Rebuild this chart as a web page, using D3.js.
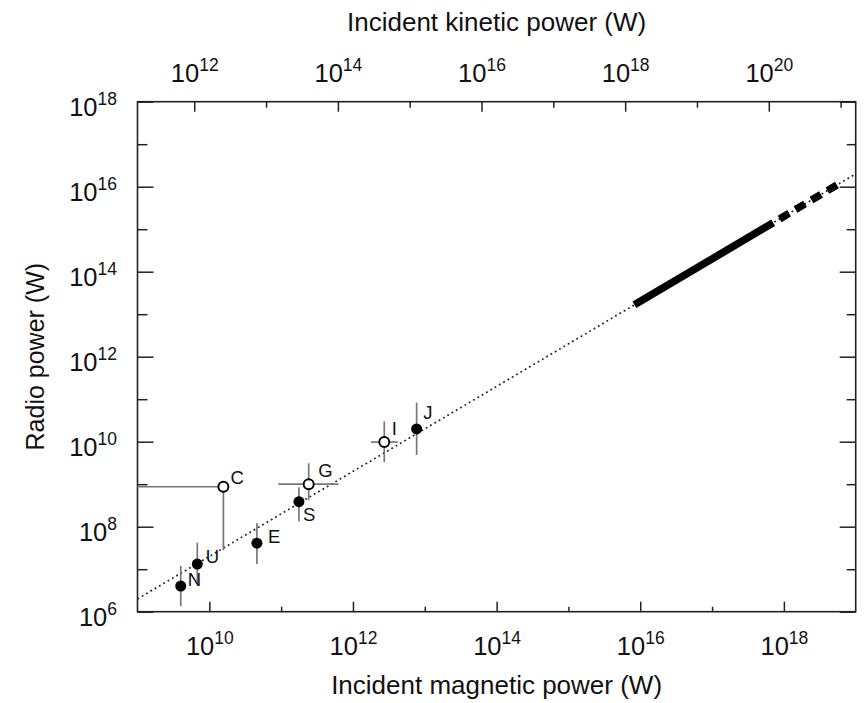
<!DOCTYPE html>
<html>
<head>
<meta charset="utf-8">
<script src="https://cdn.jsdelivr.net/npm/d3@7"></script>
<style>
  body { margin: 0; background: #fff; }
  svg { font-family: "Liberation Sans", Arial, Helvetica, sans-serif; }
</style>
</head>
<body>
<svg id="chart" width="864" height="703"></svg>
<script>
// Bodies: incident magnetic power vs radio power
const bodies     = ["N", "U", "E", "S", "G", "C", "I", "J"];
const magPower   = [4.0e9, 6.8e9, 4.6e10, 1.77e11, 2.42e11, 1.57e10, 2.73e12, 7.7e12];
const radioPower = [4.0e6, 1.32e7, 4.1e7, 3.87e8, 1.0e9, 8.7e8, 9.8e9, 2.0e10];
const radioLow   = [1.35e6, 4.5e6, 1.32e7, 1.32e8, 4.2e8, 2.8e7, 3.3e9, 4.9e9];
const radioHigh  = [1.2e7, 4.2e7, 1.2e8, 8.5e8, 3.1e9, 8.7e8, 3.0e10, 8.3e10];
const magLow     = [null, null, null, null, 9.1e10, 1e9, 1.78e12, null];
const magHigh    = [null, null, null, null, 6.3e11, 1.57e10, 4.2e12, null];
const hollow     = [false, false, false, false, true, true, true, false];

// Radio-magnetic Bode's law, P_radio = 2e-3 * P_mag
const lawCoef = 2.0e-3;
const lawRange = [1e9, 1e19];
const lawSolid = [8.3e15, 7.1e17];
const lawDashed = [7.1e17, 5.8e18];

// ticks
const magTicks = [1e10, 1e12, 1e14, 1e16, 1e18];
const magMinor = [1e11, 1e13, 1e15, 1e17];
const kinTicks = [1e12, 1e14, 1e16, 1e18, 1e20];
const kinMinor = [1e13, 1e15, 1e17, 1e19, 1e21];
const radioTicks = [1e6, 1e8, 1e10, 1e12, 1e14, 1e16, 1e18];
const radioMinor = [1e7, 1e9, 1e11, 1e13, 1e15, 1e17];

const plotLeft = 137.5, plotRight = 855.7, plotTop = 101.7, plotBottom = 611.7;

const x = d3.scaleLog().domain([1e9, 1e19]).range([plotLeft, plotRight]);
const xTop = d3.scaleLog().domain([Math.pow(10, 11.21), Math.pow(10, 21.21)]).range([plotLeft, plotRight]);
const y = d3.scaleLog().domain([1e6, 1e18]).range([plotBottom, plotTop]);

const svg = d3.select("#chart");
const ink = "#222";

function powLabel(sel) {
    sel.each(function(d) {
        const t = d3.select(this).text("");
        t.append("tspan").text("10");
        t.append("tspan")
            .attr("font-size", 17.5)
            .attr("dy", "-0.62em")
            .text(Math.round(Math.log10(d)));
    });
}

function styleAxis(g) {
    g.select(".domain").remove();
    g.selectAll(".tick line").attr("stroke", ink).attr("stroke-width", 1.5);
    g.selectAll(".tick text").attr("fill", "#111").attr("font-size", 25.5);
}

// bottom axis
svg.append("g").attr("transform", `translate(0,${plotBottom})`)
    .call(d3.axisBottom(x).tickValues(magTicks).tickSizeInner(-10).tickSizeOuter(0).tickPadding(25.5))
    .call(styleAxis)
    .selectAll(".tick text").call(powLabel);
svg.append("g").attr("transform", `translate(0,${plotBottom})`)
    .call(d3.axisBottom(x).tickValues(magMinor).tickSizeInner(-5).tickSizeOuter(0).tickFormat(""))
    .call(styleAxis);

// top axis
svg.append("g").attr("transform", `translate(0,${plotTop})`)
    .call(d3.axisTop(xTop).tickValues(kinTicks).tickSizeInner(-10).tickSizeOuter(0).tickPadding(20))
    .call(styleAxis)
    .selectAll(".tick text").call(powLabel);
svg.append("g").attr("transform", `translate(0,${plotTop})`)
    .call(d3.axisTop(xTop).tickValues(kinMinor).tickSizeInner(-6).tickSizeOuter(0).tickFormat(""))
    .call(styleAxis);

// left axis
svg.append("g").attr("transform", `translate(${plotLeft},0)`)
    .call(d3.axisLeft(y).tickValues(radioTicks).tickSizeInner(-16).tickSizeOuter(0).tickPadding(20.5))
    .call(styleAxis)
    .selectAll(".tick text").attr("dy", "0.53em").call(powLabel);
svg.append("g").attr("transform", `translate(${plotLeft},0)`)
    .call(d3.axisLeft(y).tickValues(radioMinor).tickSizeInner(-10).tickSizeOuter(0).tickFormat(""))
    .call(styleAxis);

// right axis (ticks only)
svg.append("g").attr("transform", `translate(${plotRight},0)`)
    .call(d3.axisRight(y).tickValues(radioTicks).tickSizeInner(-16).tickSizeOuter(0).tickFormat(""))
    .call(styleAxis);
svg.append("g").attr("transform", `translate(${plotRight},0)`)
    .call(d3.axisRight(y).tickValues(radioMinor).tickSizeInner(-9).tickSizeOuter(0).tickFormat(""))
    .call(styleAxis);

// frame
svg.append("rect")
    .attr("x", plotLeft).attr("y", plotTop)
    .attr("width", plotRight - plotLeft).attr("height", plotBottom - plotTop)
    .attr("fill", "none").attr("stroke", ink).attr("stroke-width", 1.6);

// titles
svg.append("text")
    .attr("x", (plotLeft + plotRight) / 2).attr("y", 30.7)
    .attr("text-anchor", "middle").attr("font-size", 26).attr("fill", "#111")
    .text("Incident kinetic power (W)");
svg.append("text")
    .attr("x", (plotLeft + plotRight) / 2).attr("y", 694)
    .attr("text-anchor", "middle").attr("font-size", 26).attr("fill", "#111")
    .text("Incident magnetic power (W)");
svg.append("text")
    .attr("transform", `translate(44,${(plotTop + plotBottom) / 2}) rotate(-90)`)
    .attr("text-anchor", "middle").attr("font-size", 25).attr("fill", "#111")
    .text("Radio power (W)");

// scaling law
const lawLine = d3.line().x(d => x(d)).y(d => y(lawCoef * d));
svg.append("path")
    .attr("d", lawLine(lawRange))
    .attr("fill", "none").attr("stroke", ink)
    .attr("stroke-width", 1.7).attr("stroke-dasharray", "1.8,3.2");
svg.append("path")
    .attr("d", lawLine(lawSolid))
    .attr("fill", "none").attr("stroke", "#000").attr("stroke-width", 7.5);
svg.append("path")
    .attr("d", lawLine(lawDashed))
    .attr("fill", "none").attr("stroke", "#000")
    .attr("stroke-width", 7.5).attr("stroke-dasharray", "11,7.5")
    .attr("stroke-dashoffset", 11);

const pts = bodies.map((name, i) => ({
    name, mag: magPower[i], radio: radioPower[i],
    rLo: radioLow[i], rHi: radioHigh[i],
    mLo: magLow[i], mHi: magHigh[i], open: hollow[i]
}));

// error bars
const bars = svg.append("g").attr("stroke", "#777").attr("stroke-width", 1.7);
bars.selectAll(".ey").data(pts).join("line")
    .attr("x1", d => x(d.mag)).attr("x2", d => x(d.mag))
    .attr("y1", d => y(d.rLo)).attr("y2", d => y(d.rHi));
bars.selectAll(".ex").data(pts.filter(d => d.mLo)).join("line")
    .attr("x1", d => x(d.mLo)).attr("x2", d => x(d.mHi))
    .attr("y1", d => y(d.radio)).attr("y2", d => y(d.radio));

// markers
svg.append("g").selectAll("circle").data(pts).join("circle")
    .attr("cx", d => x(d.mag)).attr("cy", d => y(d.radio))
    .attr("r", d => d.open ? 5 : 5.5)
    .attr("fill", d => d.open ? "#fff" : "#000")
    .attr("stroke", "#000").attr("stroke-width", d => d.open ? 1.9 : 0);

// labels
const labelOffset = {
    N: [7, 0], U: [8.5, -1], E: [11, 0], S: [4, 19],
    G: [9.5, -7], C: [7, -3], I: [7.5, -7], J: [6.5, -10]
};
svg.append("g").selectAll("text").data(pts).join("text")
    .attr("x", d => x(d.mag) + labelOffset[d.name][0])
    .attr("y", d => y(d.radio) + labelOffset[d.name][1])
    .attr("font-size", 18.5).attr("fill", "#111")
    .text(d => d.name);
</script>
</body>
</html>
